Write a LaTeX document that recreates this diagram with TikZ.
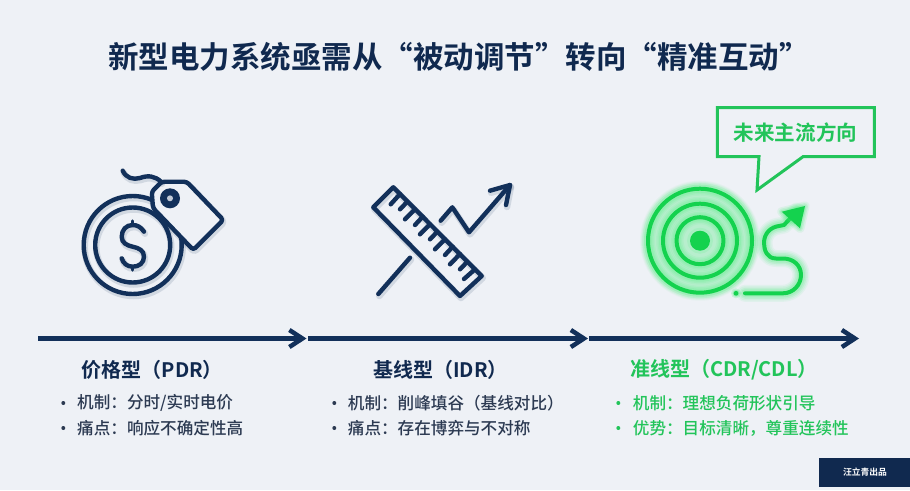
\documentclass[tikz,border=0pt]{standalone}
\usepackage{fontspec}
\usetikzlibrary{arrows.meta}
\setmainfont{Noto Sans CJK SC}[BoldFont={Noto Sans CJK SC Bold}]
\newfontfamily\medfont{Noto Sans CJK SC Medium}
\definecolor{bgc}{HTML}{EEF1F6}
\definecolor{navy}{HTML}{12305A}
\definecolor{titlec}{HTML}{10294F}
\definecolor{bodyc}{HTML}{2C3A52}
\definecolor{grn}{HTML}{14D24E}
\definecolor{glowc}{HTML}{35EE6C}
\definecolor{grntext}{HTML}{22C45A}
\tikzset{
  navyline/.style={draw=navy,line width=4.4pt,line cap=round,line join=round},
  navyshadow/.style={draw=navy,opacity=.13,line width=6.5pt,line cap=round,line join=round},
  grnline/.style={draw=grn,line width=4pt,line cap=round,line join=round},
  flowarrow/.style={draw=navy,line width=4.5pt,-{Straight Barb[length=13pt,width=17pt,line width=4.5pt]}},
  heading/.style={font=\bfseries\fontsize{20}{24}\selectfont,anchor=west,inner sep=0pt},
  bodytext/.style={font=\medfont\fontsize{16.6}{20}\selectfont,anchor=west,inner sep=0pt,text=bodyc},
  greentext/.style={font=\medfont\fontsize{16.6}{20}\selectfont,anchor=west,inner sep=0pt,text=grntext},
  bulletdot/.style={circle,fill=#1,inner sep=0pt,minimum size=4pt},
}
\newcommand{\navystroke}[1]{\draw[navyshadow,shift={(1,2)}] #1; \draw[navyline] #1;}
\newcommand{\grnstroke}[1]{%
  \foreach \w/\o in {17/.07,14/.09,11/.12,8/.16}{\draw[draw=glowc,opacity=\o,line width=\w pt,line cap=round,line join=round] #1;}
  \draw[grnline] #1;}
\begin{document}
\begin{tikzpicture}[x=1pt,y=-1pt]
\useasboundingbox (0,0) rectangle (910,490);
\fill[bgc] (0,0) rectangle (910,490);
% title
\node[font=\bfseries\fontsize{30.5}{36}\selectfont,text=titlec,inner sep=0pt,anchor=west] (title) at (108,57) {新型电力系统亟需从“被动调节”转向“精准互动”};
% price icon
\navystroke{(132.7,245) circle (49)}
\navystroke{(132.7,245) circle (37.5)}
\navystroke{(144,231.7) .. controls (141,227) and (137,225) .. (132.7,225) .. controls (126,225) and (121.7,230) .. (121.7,236.7) .. controls (121.7,243) and (127,245.5) .. (132.7,246.7) .. controls (139,248) and (144,250.5) .. (144,256.7) .. controls (144,263) and (139,266.7) .. (132.7,266.7) .. controls (127,266.7) and (123,263) .. (121.7,258.3)}
\draw[navyline,line width=3.5pt] (132.7,221) -- (132.7,225) (132.7,267) -- (132.7,270);
\fill[bgc] (151.7,191.7) -- (161.7,181.7) -- (186.7,181.7) -- (223.3,220) -- (193.3,250) -- (153,208) -- cycle;
\draw[navyshadow,shift={(1,2)},rounded corners=3pt] (151.7,191.7) -- (161.7,181.7) -- (186.7,181.7) -- (223.3,220) -- (193.3,250) -- (153,208) -- cycle;
\fill[bgc] (151.7,191.7) -- (161.7,181.7) -- (186.7,181.7) -- (223.3,220) -- (193.3,250) -- (153,208) -- cycle;
\draw[navyline,rounded corners=3pt] (151.7,191.7) -- (161.7,181.7) -- (186.7,181.7) -- (223.3,220) -- (193.3,250) -- (153,208) -- cycle;
\fill[navy] (170,198.3) circle (10);
\fill[bgc!80!navy] (170,198.3) circle (3);
\navystroke{(122.7,170.7) .. controls (126,178) and (133,180) .. (140,178) .. controls (148,175) and (155,176) .. (161,181.7)}
% ruler icon
\navystroke{(393.3,187.3) -- (481.7,276) -- (460,296) -- (373.3,207.3) -- cycle}
\foreach \xa/\ya/\xb/\yb in {400/194/390.7/204.3,407.3/201.7/400/209.3,415/209.3/405/219.3,422.7/216.7/415/225,430/224.3/420/234.3,437.3/231.7/430/239.3,445/239.3/435/249.3,452.7/246.7/445/255,460/254/450/264.3,467.3/261.7/460/269.3,475/269.3/464/279}{
  \draw[navyline] (\xa,\ya) -- (\xb,\yb);
}
\navystroke{(378.3,294) -- (410,257.7)}
\navystroke{(440.7,220.7) -- (452.3,207.3) -- (469,232.3) -- (510,185)}
\navystroke{(490,190.7) -- (510,185) -- (506,205)}
% target icon
\foreach \r/\o in {60/.05,58/.07,56/.09,54/.11}{\fill[glowc,opacity=\o] (700,240.7) circle (\r);}
\foreach \r in {52,37,23.5}{
  \foreach \w/\o in {14/.08,11/.10,8/.13}{\draw[draw=glowc,opacity=\o,line width=\w pt] (700,240.7) circle (\r);}
}
\fill[glowc,opacity=.12] (700,240.7) circle (13);
\draw[grnline] (700,240.7) circle (52);
\draw[grnline] (700,240.7) circle (37);
\draw[grnline] (700,240.7) circle (23.5);
\fill[grn] (700,240.7) circle (10);
\grnstroke{(745,293.3) -- (783,293.3) .. controls (793,293.3) and (801,285) .. (801,275) .. controls (801,265) and (793,258.5) .. (783,258.5) -- (776,258.5) .. controls (767,258.5) and (764,250) .. (764,243) .. controls (764,233) and (771,227) .. (779,226) -- (784,225) -- (797,211)}
\foreach \r/\o in {5/.2,3.5/.3}{\fill[glowc,opacity=\o] (736,293.3) circle (\r);}
\fill[grn] (736,293.3) circle (2.4);
\foreach \w/\o in {9/.10,6/.15,3/.2}{\draw[draw=glowc,opacity=\o,line width=\w pt,line join=round] (781.7,211.7) -- (805,206) -- (800,228.3) -- cycle;}
\fill[grn] (781.7,211.7) -- (805,206) -- (800,228.3) -- cycle;
% callout
\draw[draw=grntext,line width=3pt,miter limit=10] (717.3,107.7) -- (874.3,107.7) -- (874.3,156.7) -- (803,156.7) -- (757,190) -- (759,156.7) -- (717.3,156.7) -- cycle;
\node[font=\bfseries\fontsize{20.6}{24}\selectfont,text=grntext,inner sep=0pt] (callout) at (795.5,132.5) {未来主流方向};
% timeline
\coordinate (a0) at (38,338.5);
\coordinate (a1) at (306.5,338.5);
\coordinate (b0) at (308,338.5);
\coordinate (b1) at (588,338.5);
\coordinate (c0) at (589,338.5);
\coordinate (c1) at (859,338.5);
\draw[flowarrow] (a0) -- (a1);
\draw[flowarrow] (b0) -- (b1);
\draw[flowarrow] (c0) -- (c1);
% column 1
\node[heading,text=titlec] (h1) at (81.5,370) {价格型（PDR）};
\node[bulletdot=bodyc] (d11) at (63.3,403) {};
\node[bodytext] (t11) at (77,403) {机制：分时/实时电价};
\node[bulletdot=bodyc] (d12) at (63.3,428) {};
\node[bodytext] (t12) at (77,428) {痛点：响应不确定性高};
% column 2
\node[heading,text=titlec] (h2) at (373,370) {基线型（IDR）};
\node[bulletdot=bodyc] (d21) at (334.3,403) {};
\node[bodytext] (t21) at (347.7,403) {机制：削峰填谷（基线对比）};
\node[bulletdot=bodyc] (d22) at (334.3,428) {};
\node[bodytext] (t22) at (347.7,428) {痛点：存在博弈与不对称};
% column 3
\node[heading,text=grntext] (h3) at (630,370) {准线型（CDR/CDL）};
\node[bulletdot=grntext] (d31) at (618.3,403) {};
\node[greentext] (t31) at (632.7,403) {机制：理想负荷形状引导};
\node[bulletdot=grntext] (d32) at (618.3,428) {};
\node[greentext] (t32) at (632.7,428) {优势：目标清晰，尊重连续性};
% footer
\fill[titlec] (819,458) rectangle (910,487);
\node[font=\bfseries\fontsize{8.8}{10}\selectfont,text=white,inner sep=0pt] (foot) at (865,472.5) {汪立青出品};
\end{tikzpicture}
\end{document}
